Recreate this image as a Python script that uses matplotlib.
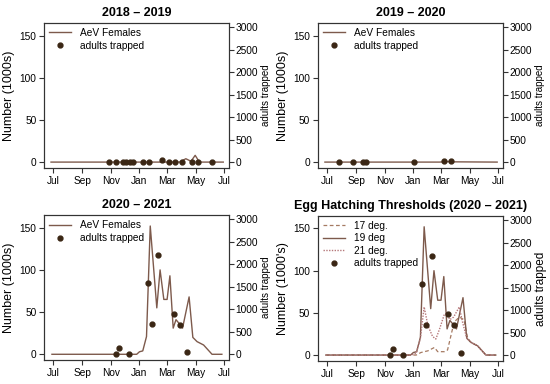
import numpy as np
import matplotlib
matplotlib.use("Agg")
import matplotlib.pyplot as plt

plt.rcParams['font.family'] = ['Liberation Sans', 'DejaVu Sans']

# month ticks, days counted from 1 July
month_days = [0, 62, 123, 184, 243, 304, 365]
month_labels = ['Jul', 'Sep', 'Nov', 'Jan', 'Mar', 'May', 'Jul']

# 2018 - 2019
line18_days = [-5, 270, 283, 294, 303, 312, 363]
line18_vals = [0, 0, 4, 1, 8, 0, 0]
trap18_days = [119, 134, 148, 155, 163, 170, 192, 205, 233, 247, 260, 275, 296, 310, 338]
trap18_vals = [0, 0, 0, 0, 0, 0, 10, 0, 50, 0, 0, 0, 0, 0, 0]

# 2019 - 2020
line19_days = [-5, 240, 255, 270, 363]
line19_vals = [0, 0, 0.6, 0.3, 0]
trap19_days = [26, 55, 76, 83, 186, 250, 264]
trap19_vals = [0, 0, 0, 0, 12, 30, 18]

# 2020 - 2021 (19 deg threshold = AeV Females)
line20_days = [-3, 178, 184, 191, 199, 207, 221, 228, 236, 243, 249, 256, 262, 268, 276,
               290, 298, 307, 321, 339, 360]
line20_vals = [0, 0, 3, 4, 21, 152, 55, 100, 65, 65, 93, 31, 41, 37, 31,
               68, 20, 15, 11, 0, 0]
trap20_days = [134, 141, 162, 203, 210, 223, 257, 271, 285]
trap20_vals = [0, 134, 0, 1589, 668, 2197, 906, 661, 52]

# other thresholds
deg17_days = [-3, 190, 200, 215, 229, 236, 250, 257, 271, 282, 292, 300, 307, 321, 339, 360]
deg17_vals = [0, 0, 3, 5, 9, 4, 4, 6, 39, 45, 42, 20, 15, 11, 0, 0]
deg21_days = [-3, 178, 190, 199, 207, 215, 225, 232, 240, 250, 255, 262, 270, 282, 289,
              298, 307, 321, 339, 360]
deg21_vals = [0, 0, 2, 20, 57, 35, 22, 19, 31, 48, 49, 42, 45, 57, 39,
              20, 15, 11, 0, 0]

LINE = '#7d5a4c'
DOT = '#3a2614'
C17 = '#a57a62'
C21 = '#b5787a'
SPINE = '#333333'
FS = 7.3
RATIO = 3000 / 160.0
YL = (-7, 165)


def setup(ax, title, ylabel, rfs=7):
    ax.set_xlim(-20, 376)
    ax.set_ylim(*YL)
    ax.set_xticks(month_days)
    ax.set_xticklabels(month_labels)
    ax.set_yticks([0, 50, 100, 150])
    ax.tick_params(direction='out', length=3.5, width=0.8, labelsize=FS, color=SPINE, pad=2)
    for s in ax.spines.values():
        s.set_color(SPINE)
        s.set_linewidth(0.8)
    ax.set_title(title, fontsize=9, fontweight='bold', pad=5)
    ax.set_ylabel(ylabel, fontsize=9, labelpad=3)
    ax2 = ax.twinx()
    ax2.set_ylim(YL[0] * RATIO, YL[1] * RATIO)
    ax2.set_yticks([0, 500, 1000, 1500, 2000, 2500, 3000])
    ax2.tick_params(direction='out', length=3.5, width=0.8, labelsize=FS, color=SPINE, pad=1)
    for s in ax2.spines.values():
        s.set_color(SPINE)
        s.set_linewidth(0.8)
    ax2.set_ylabel('adults trapped', fontsize=rfs, labelpad=2)
    return ax2


fig = plt.figure(figsize=(5.5, 3.84), dpi=100)
w, h = 0.337, 0.378
ax1 = fig.add_axes([0.080, 0.5625, w, h])
ax2 = fig.add_axes([0.578, 0.5625, w, h])
ax3 = fig.add_axes([0.080, 0.062, w, h])
ax4 = fig.add_axes([0.578, 0.060, w, h])

panels = [
    (ax1, '2018 \u2013 2019', line18_days, line18_vals, trap18_days, trap18_vals),
    (ax2, '2019 \u2013 2020', line19_days, line19_vals, trap19_days, trap19_vals),
    (ax3, '2020 \u2013 2021', line20_days, line20_vals, trap20_days, trap20_vals),
]
for ax, title, ld, lv, td, tv in panels:
    r = setup(ax, title, 'Number (1000s)')
    l1, = ax.plot(ld, lv, color=LINE, lw=1.0)
    p1, = r.plot(td, tv, 'o', color=DOT, ms=3.5, ls='none')
    ax.legend([l1, p1], ['AeV Females', 'adults trapped'], loc='upper left',
              frameon=False, fontsize=FS, handlelength=2.2, handletextpad=0.9,
              labelspacing=0.3, borderaxespad=0.2, borderpad=0.3)

r = setup(ax4, 'Egg Hatching Thresholds (2020 \u2013 2021)', "Number (1000's)", rfs=8.5)
a, = ax4.plot(deg17_days, deg17_vals, color=C17, lw=0.9, ls=(0, (3, 2)))
b, = ax4.plot(line20_days, line20_vals, color=LINE, lw=1.0)
c, = ax4.plot(deg21_days, deg21_vals, color=C21, lw=1.0, ls=(0, (1, 1)))
d, = r.plot(trap20_days, trap20_vals, 'o', color=DOT, ms=3.5, ls='none')
ax4.legend([a, b, c, d], ['17 deg.', '19 deg', '21 deg.', 'adults trapped'],
           loc='upper left', frameon=False, fontsize=FS, handlelength=2.2,
           handletextpad=0.9, labelspacing=0.25, borderaxespad=0.2, borderpad=0.3)

fig.savefig('out.png', dpi=100)
